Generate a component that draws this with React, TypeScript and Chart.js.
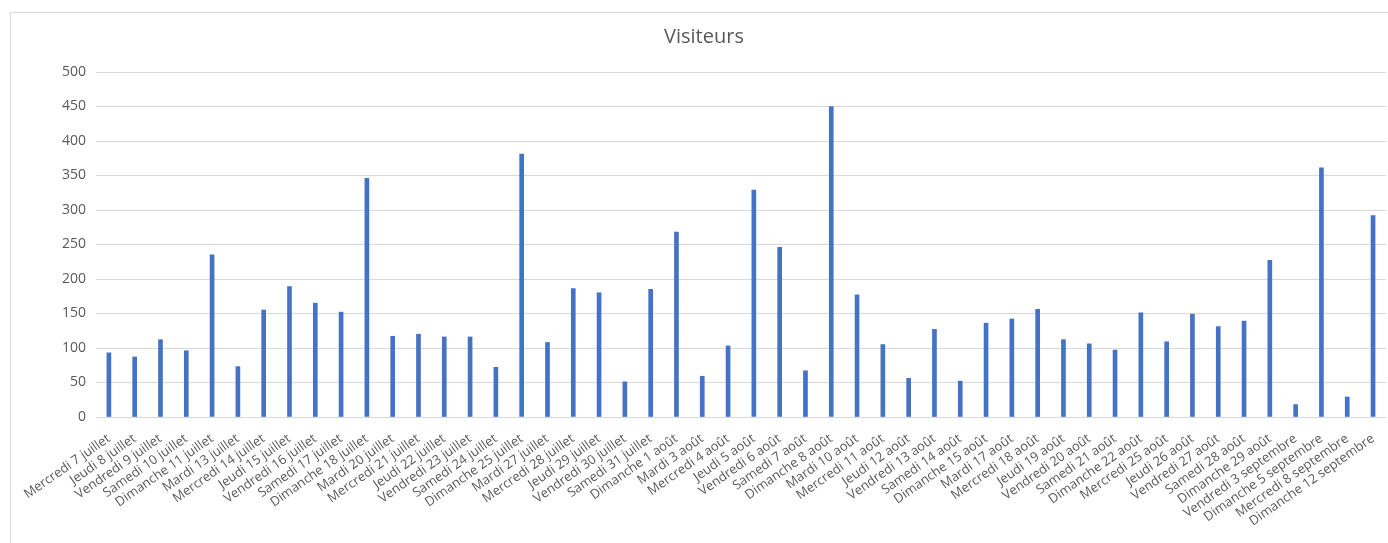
import { Chart, registerables, type ChartConfiguration } from 'chart.js';
import { useEffect, useRef } from 'react';

Chart.register(...registerables);

const days: string[] = [
  'Mercredi 7 juillet', 'Jeudi 8 juillet', 'Vendredi 9 juillet', 'Samedi 10 juillet', 'Dimanche 11 juillet',
  'Mardi 13 juillet', 'Mercredi 14 juillet', 'Jeudi 15 juillet', 'Vendredi 16 juillet', 'Samedi 17 juillet',
  'Dimanche 18 juillet', 'Mardi 20 juillet', 'Mercredi 21 juillet', 'Jeudi 22 juillet', 'Vendredi 23 juillet',
  'Samedi 24 juillet', 'Dimanche 25 juillet', 'Mardi 27 juillet', 'Mercredi 28 juillet', 'Jeudi 29 juillet',
  'Vendredi 30 juillet', 'Samedi 31 juillet', 'Dimanche 1 août', 'Mardi 3 août', 'Mercredi 4 août',
  'Jeudi 5 août', 'Vendredi 6 août', 'Samedi 7 août', 'Dimanche 8 août', 'Mardi 10 août',
  'Mercredi 11 août', 'Jeudi 12 août', 'Vendredi 13 août', 'Samedi 14 août', 'Dimanche 15 août',
  'Mardi 17 août', 'Mercredi 18 août', 'Jeudi 19 août', 'Vendredi 20 août', 'Samedi 21 août',
  'Dimanche 22 août', 'Mercredi 25 août', 'Jeudi 26 août', 'Vendredi 27 août', 'Samedi 28 août',
  'Dimanche 29 août', 'Vendredi 3 septembre', 'Dimanche 5 septembre', 'Mercredi 8 septembre', 'Dimanche 12 septembre',
];

const visiteurs: number[] = [
  93, 87, 112, 96, 235, 73, 155, 189, 165, 152,
  346, 117, 120, 116, 116, 72, 381, 108, 186, 180,
  51, 185, 268, 59, 103, 329, 246, 67, 450, 177,
  105, 56, 127, 52, 136, 142, 156, 112, 106, 97,
  151, 109, 149, 131, 139, 227, 18, 361, 29, 292,
];

const yTicks: number[] = [0, 50, 100, 150, 200, 250, 300, 350, 400, 450, 500];

const FONT = "'Open Sans', sans-serif";
const GREY = '#595959';
const GRID = '#d9d9d9';

export default function App() {
  const canvasRef = useRef<HTMLCanvasElement>(null);

  useEffect(() => {
    const canvas = canvasRef.current;
    if (!canvas) return;

    const config: ChartConfiguration<'bar'> = {
      type: 'bar',
      data: {
        labels: days,
        datasets: [
          {
            label: 'Visiteurs',
            data: visiteurs,
            backgroundColor: '#4472C4',
            barThickness: 4,
          },
        ],
      },
      options: {
        responsive: false,
        animation: false,
        // left padding keeps the title centred on the card, not on the canvas
        layout: { padding: { left: 22, right: 2, top: 0, bottom: 0 } },
        plugins: {
          legend: { display: false },
          tooltip: { enabled: false },
          title: {
            display: true,
            text: 'Visiteurs',
            color: GREY,
            font: { family: FONT, size: 20, weight: 'normal' },
            padding: { top: 25, bottom: 23 },
          },
        },
        scales: {
          x: {
            grid: { display: false },
            border: { color: GRID },
            ticks: {
              autoSkip: false,
              minRotation: 35,
              maxRotation: 35,
              padding: 6,
              color: GREY,
              font: { family: FONT, size: 13 },
            },
            afterFit: (scale) => {
              scale.height = 126;
            },
          },
          y: {
            min: 0,
            max: 500,
            afterBuildTicks: (scale) => {
              scale.ticks = yTicks.map((v) => ({ value: v }));
            },
            grid: { color: GRID, drawTicks: false },
            border: { display: false },
            ticks: {
              padding: 10,
              color: GREY,
              font: { family: FONT, size: 14 },
            },
            afterFit: (scale) => {
              scale.width = 74;
            },
          },
        },
      },
    };

    const chart = new Chart(canvas, config);
    return () => {
      chart.destroy();
    };
  }, []);

  return (
    <div
      style={{
        position: 'fixed',
        left: 0,
        top: 0,
        width: 1388,
        height: 543,
        overflow: 'hidden',
        background: '#fff',
      }}
    >
      <div
        style={{
          position: 'absolute',
          left: 10,
          top: 12,
          width: 1400,
          height: 560,
          border: '1px solid #d9d9d9',
          boxSizing: 'border-box',
        }}
      />
      <canvas
        ref={canvasRef}
        width={1388}
        height={543}
        style={{ position: 'absolute', left: 0, top: 0, width: 1388, height: 543 }}
      />
    </div>
  );
}
